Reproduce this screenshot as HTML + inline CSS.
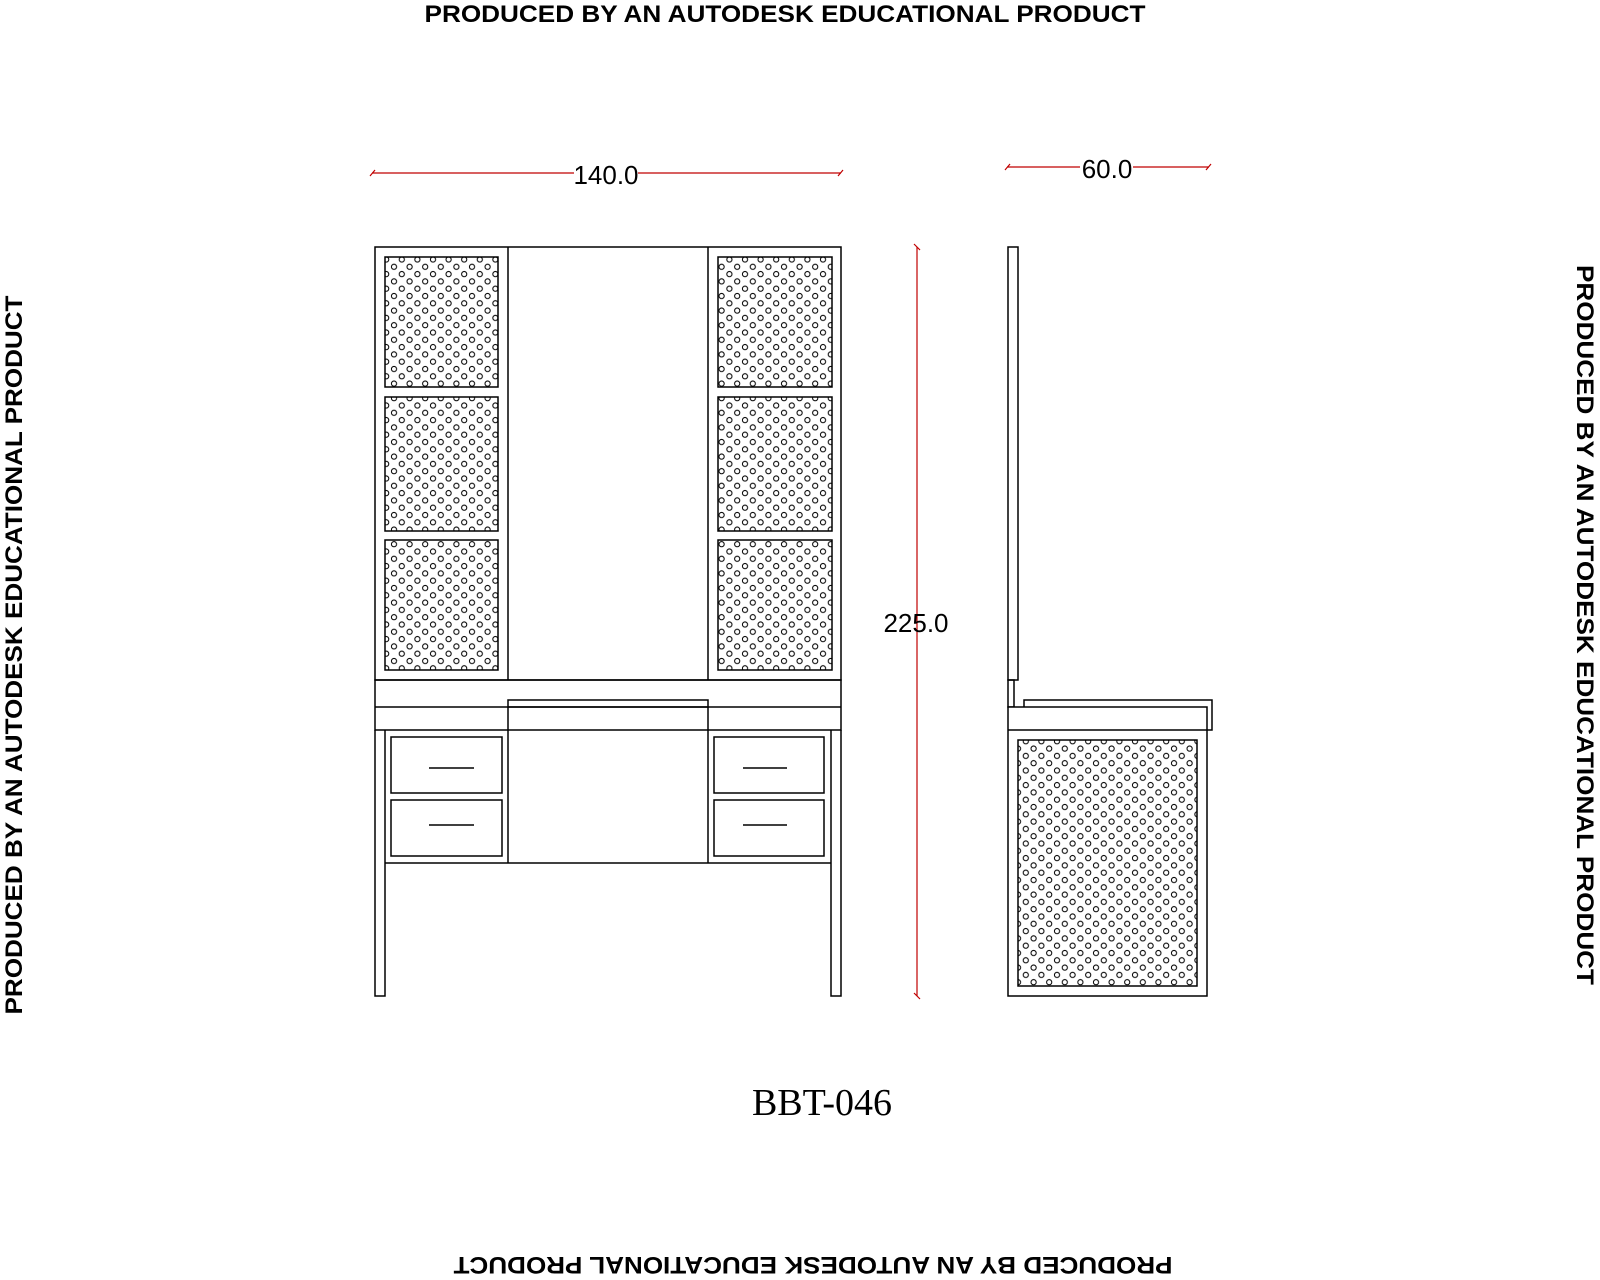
<!DOCTYPE html>
<html><head><style>body{margin:0;background:#fff}svg{display:block}</style></head>
<body>
<svg width="1600" height="1280" xmlns="http://www.w3.org/2000/svg">
<defs>
<pattern id="h" width="15.6" height="14.6" patternUnits="userSpaceOnUse">
<circle cx="4" cy="4" r="2.6" fill="none" stroke="#000" stroke-width="1"/>
<circle cx="11.8" cy="11.3" r="2.6" fill="none" stroke="#000" stroke-width="1"/>
</pattern>
</defs>
<g font-family="Liberation Sans, sans-serif" font-weight="bold" font-size="24" fill="#000">
<text x="785" y="22" text-anchor="middle" textLength="721" lengthAdjust="spacingAndGlyphs">PRODUCED BY AN AUTODESK EDUCATIONAL PRODUCT</text>
<text transform="translate(22,655) rotate(-90)" text-anchor="middle" textLength="719" lengthAdjust="spacingAndGlyphs">PRODUCED BY AN AUTODESK EDUCATIONAL PRODUCT</text>
<text transform="translate(1577,625) rotate(90)" text-anchor="middle" textLength="720" lengthAdjust="spacingAndGlyphs">PRODUCED BY AN AUTODESK EDUCATIONAL PRODUCT</text>
<text transform="translate(813,1257) rotate(180)" text-anchor="middle" textLength="719" lengthAdjust="spacingAndGlyphs">PRODUCED BY AN AUTODESK EDUCATIONAL PRODUCT</text>
</g>
<g stroke="#c00000" stroke-width="1.2" fill="none">
<line x1="372" y1="173" x2="574" y2="173"/><line x1="638" y1="173" x2="841" y2="173"/>
<line x1="370" y1="176" x2="375" y2="170"/><line x1="838" y1="176" x2="843" y2="170"/>
<line x1="1007" y1="167" x2="1080" y2="167"/><line x1="1133" y1="167" x2="1209" y2="167"/>
<line x1="1005" y1="170" x2="1010" y2="164"/><line x1="1206" y1="170" x2="1211" y2="164"/>
<line x1="917" y1="247" x2="917" y2="996"/>
<line x1="914" y1="244" x2="920" y2="250"/><line x1="914" y1="993" x2="920" y2="999"/>
</g>
<g font-family="Liberation Sans, sans-serif" font-size="26" fill="#000">
<text x="606" y="184" text-anchor="middle">140.0</text>
<text x="1107" y="178" text-anchor="middle">60.0</text>
<text x="916" y="632" text-anchor="middle">225.0</text>
</g>
<text x="822" y="1115" text-anchor="middle" font-family="Liberation Serif, serif" font-size="38">BBT-046</text>
<g stroke="#000" stroke-width="1.5" fill="none">
<rect x="375" y="247" width="466" height="433"/>
<line x1="508" y1="247" x2="508" y2="680"/><line x1="708" y1="247" x2="708" y2="680"/>
<rect x="375" y="680" width="466" height="50"/>
<line x1="375" y1="707" x2="841" y2="707"/>
<rect x="508" y="700" width="200" height="7"/>
<line x1="508" y1="707" x2="508" y2="863"/><line x1="708" y1="707" x2="708" y2="863"/>
<polyline points="375,730 375,996 385,996 385,730"/>
<polyline points="841,730 841,996 831,996 831,730"/>
<line x1="385" y1="863" x2="831" y2="863"/>
<rect x="391" y="737" width="111" height="56"/><rect x="391" y="800" width="111" height="56"/>
<rect x="714" y="737" width="110" height="56"/><rect x="714" y="800" width="110" height="56"/>
<line x1="429" y1="768" x2="474" y2="768"/><line x1="429" y1="825" x2="474" y2="825"/>
<line x1="743" y1="768" x2="787" y2="768"/><line x1="743" y1="825" x2="787" y2="825"/>
<rect x="1008" y="247" width="10" height="433"/>
<rect x="1008" y="680" width="6" height="27"/>
<rect x="1024" y="700" width="188" height="30"/>
<rect x="1008" y="707" width="199" height="289" fill="#fff"/>
<line x1="1008" y1="730" x2="1207" y2="730"/>
</g>
<g stroke="#000" stroke-width="1.5" fill="url(#h)">
<rect x="385" y="257" width="113" height="130"/>
<rect x="385" y="397" width="113" height="134"/>
<rect x="385" y="540" width="113" height="130"/>
<rect x="718" y="257" width="114" height="130"/>
<rect x="718" y="397" width="114" height="134"/>
<rect x="718" y="540" width="114" height="130"/>
<rect x="1018" y="740" width="179" height="246"/>
</g>
</svg>
</body></html>
